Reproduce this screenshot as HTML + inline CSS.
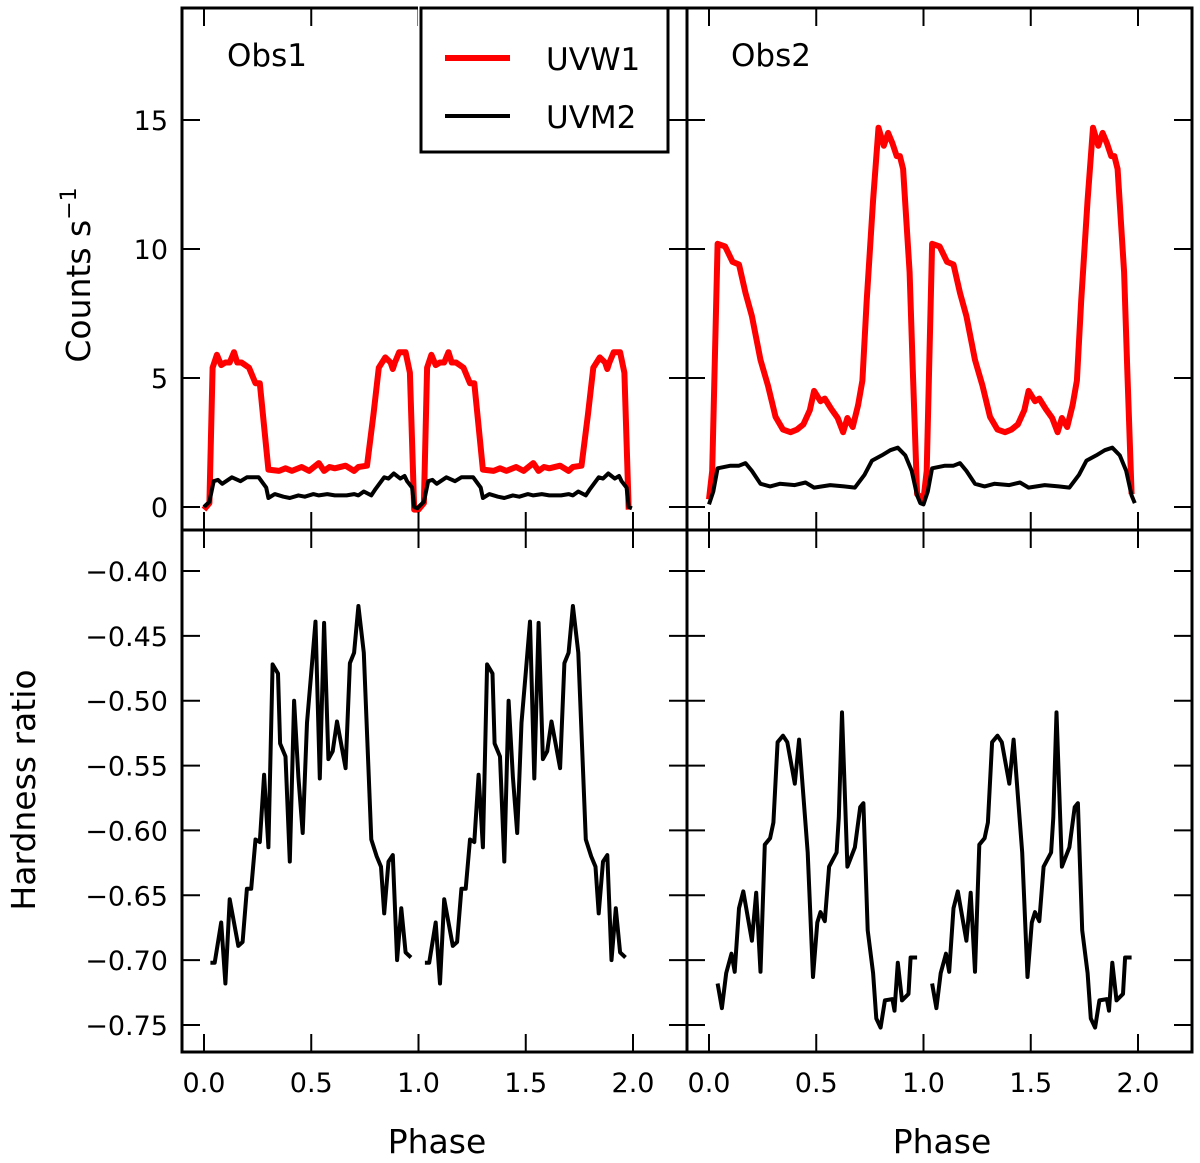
<!DOCTYPE html>
<html><head><meta charset="utf-8"><style>
html,body{margin:0;padding:0;background:#fff}
svg{display:block;font-family:"DejaVu Sans","Liberation Sans",sans-serif}
</style></head><body>
<svg id="chart" width="1200" height="1163" viewBox="0 0 1200 1163" xmlns="http://www.w3.org/2000/svg"></svg>
<script>
// ---- data (one phase cycle, plotted at phase and phase+1) ----
const obs1UvwPhase=[0,.025,.04,.06,.08,.10,.12,.14,.155,.175,.21,.23,.24,.26,.30,.35,.38,.41,.455,.49,.535,.56,.585,.61,.66,.70,.72,.76,.79,.815,.845,.87,.88,.89,.91,.94,.96,.98];
const obs1UvwCounts=[-0.1,0.15,5.4,5.9,5.5,5.6,5.6,6.0,5.6,5.6,5.4,5.0,4.8,4.8,1.45,1.4,1.5,1.4,1.55,1.4,1.7,1.4,1.55,1.5,1.6,1.4,1.55,1.6,3.6,5.4,5.8,5.6,5.35,5.6,6.0,6.0,5.2,-0.1];
const obs1UvmPhase=[0,.025,.045,.065,.085,.13,.17,.20,.255,.29,.30,.33,.37,.40,.44,.47,.51,.535,.575,.61,.665,.70,.72,.745,.78,.80,.84,.86,.885,.915,.935,.947,.97,.98,.995];
const obs1UvmCounts=[0,0.2,1.0,1.05,0.9,1.15,1.0,1.15,1.15,0.75,0.35,0.5,0.4,0.35,0.45,0.4,0.5,0.45,0.5,0.45,0.45,0.5,0.45,0.6,0.45,0.7,1.15,1.1,1.3,1.1,1.2,1.0,0.75,0.0,-0.05];
const obs2UvwPhase=[0,.015,.04,.075,.11,.14,.17,.20,.24,.275,.31,.345,.38,.41,.44,.47,.49,.52,.54,.57,.60,.625,.645,.67,.695,.715,.735,.765,.79,.815,.835,.855,.875,.89,.905,.935,.95,.97];
const obs2UvwCounts=[0.3,1.4,10.2,10.1,9.5,9.4,8.3,7.4,5.7,4.7,3.5,3.0,2.9,3.0,3.2,3.75,4.5,4.1,4.2,3.8,3.45,2.9,3.45,3.1,3.95,4.9,8.0,11.9,14.7,14.0,14.5,14.1,13.6,13.6,13.1,9.1,5.3,0.5];
const obs2UvmPhase=[0,.02,.04,.10,.14,.17,.20,.24,.285,.33,.40,.45,.49,.565,.63,.68,.725,.76,.805,.845,.88,.915,.945,.97,.985];
const obs2UvmCounts=[0.1,0.6,1.5,1.6,1.6,1.7,1.4,0.9,0.8,0.9,0.85,0.95,0.75,0.85,0.8,0.75,1.25,1.8,2.0,2.2,2.3,2.0,1.4,0.45,0.15];
const obs1HrPhase=[.03,.05,.08,.10,.12,.16,.18,.20,.22,.24,.26,.28,.30,.32,.345,.355,.38,.40,.42,.44,.46,.48,.50,.52,.54,.56,.58,.60,.62,.64,.66,.68,.70,.72,.745,.78,.805,.825,.84,.86,.88,.90,.92,.94,.965];
const obs1Hr=[-0.702,-0.702,-0.671,-0.718,-0.653,-0.689,-0.686,-0.645,-0.645,-0.607,-0.609,-0.557,-0.613,-0.472,-0.479,-0.533,-0.543,-0.624,-0.500,-0.559,-0.602,-0.517,-0.478,-0.439,-0.560,-0.440,-0.545,-0.539,-0.516,-0.534,-0.552,-0.471,-0.463,-0.427,-0.463,-0.607,-0.620,-0.628,-0.664,-0.624,-0.619,-0.700,-0.660,-0.694,-0.698];
const obs2HrPhase=[.04,.06,.08,.105,.12,.14,.16,.20,.22,.24,.26,.285,.30,.32,.345,.365,.40,.42,.46,.485,.505,.52,.54,.56,.595,.605,.62,.645,.68,.705,.72,.74,.765,.78,.80,.82,.855,.865,.88,.90,.93,.94,.97];
const obs2Hr=[-0.718,-0.737,-0.710,-0.695,-0.709,-0.660,-0.647,-0.685,-0.648,-0.709,-0.611,-0.606,-0.594,-0.532,-0.527,-0.532,-0.564,-0.530,-0.617,-0.713,-0.671,-0.663,-0.670,-0.628,-0.617,-0.590,-0.509,-0.628,-0.613,-0.582,-0.579,-0.677,-0.710,-0.745,-0.752,-0.731,-0.730,-0.739,-0.702,-0.731,-0.726,-0.698,-0.698];
const xTicks=[0,0.5,1,1.5,2];
const xTickLabels=["0.0","0.5","1.0","1.5","2.0"];
const countTicks=[0,5,10,15];
const hrTicks=[-0.40,-0.45,-0.50,-0.55,-0.60,-0.65,-0.70,-0.75];
const hrTickLabels=["\u22120.40","\u22120.45","\u22120.50","\u22120.55","\u22120.60","\u22120.65","\u22120.70","\u22120.75"];

const NS="http://www.w3.org/2000/svg";
const svg=document.getElementById('chart');
function mk(tag,attrs,parent){const e=document.createElementNS(NS,tag);for(const k in attrs)e.setAttribute(k,attrs[k]);(parent||svg).appendChild(e);return e;}

const cols=[{x0:182,x1:687,px0:204,px2:633},{x0:687,x1:1192,px0:709,px2:1138}];
const rows=[{y0:8,y1:530},{y0:530,y1:1052}];
function xs(c,p){const C=cols[c];return C.px0+(C.px2-C.px0)*p/2;}
function yCount(v){return 507-(507-120)*v/15;}
function yHr(v){return 571+(v+0.40)/(-0.35)*(1025-571);}

const defs=mk('defs',{});
for(let r=0;r<2;r++)for(let c=0;c<2;c++){
  const cp=mk('clipPath',{id:'cp'+r+c},defs);
  mk('rect',{x:cols[c].x0,y:rows[r].y0,width:cols[c].x1-cols[c].x0,height:rows[r].y1-rows[r].y0},cp);
}
const gTL=mk('g',{'clip-path':'url(#cp00)'});
const gTR=mk('g',{'clip-path':'url(#cp01)'});
const gBL=mk('g',{'clip-path':'url(#cp10)'});
const gBR=mk('g',{'clip-path':'url(#cp11)'});
function dl(g,c,yf,ph,vals,color,w,name,split){
  let segs=[[]];
  for(let k=0;k<2;k++){
    if(split&&k===1)segs.push([]);
    for(let i=0;i<ph.length;i++){segs[segs.length-1].push(xs(c,ph[i]+k).toFixed(1)+','+yf(vals[i]).toFixed(1));}
  }
  segs.forEach(pts=>{
    const e=mk('polyline',{points:pts.join(' '),fill:'none',stroke:color,'stroke-width':w,'stroke-linejoin':'round'},g);
    
    
  });
}
dl(gTL,0,yCount,obs1UvwPhase,obs1UvwCounts,'#ff0000',6,'obs1-uvw1-line',false);
dl(gTL,0,yCount,obs1UvmPhase,obs1UvmCounts,'#000',4,'obs1-uvm2-line',false);
dl(gTR,1,yCount,obs2UvwPhase,obs2UvwCounts,'#ff0000',6,'obs2-uvw1-line',false);
dl(gTR,1,yCount,obs2UvmPhase,obs2UvmCounts,'#000',4,'obs2-uvm2-line',false);
dl(gBL,0,yHr,obs1HrPhase,obs1Hr,'#000',4,'obs1-hardness-line',true);
dl(gBR,1,yHr,obs2HrPhase,obs2Hr,'#000',4,'obs2-hardness-line',true);

for(let r=0;r<2;r++)for(let c=0;c<2;c++){
  const C=cols[c],R=rows[r];
  xTicks.forEach(t=>{const x=xs(c,t);
    mk('line',{x1:x,y1:R.y1,x2:x,y2:R.y1-18,stroke:'#000','stroke-width':2});
    mk('line',{x1:x,y1:R.y0,x2:x,y2:R.y0+18,stroke:'#000','stroke-width':2});});
  const yt=r===0?countTicks:hrTicks, yf=r===0?yCount:yHr;
  yt.forEach(t=>{const y=yf(t);
    mk('line',{x1:C.x0,y1:y,x2:C.x0+18,y2:y,stroke:'#000','stroke-width':2});
    mk('line',{x1:C.x1,y1:y,x2:C.x1-18,y2:y,stroke:'#000','stroke-width':2});});
}
for(let r=0;r<2;r++)for(let c=0;c<2;c++){
  const f=mk('rect',{x:cols[c].x0,y:rows[r].y0,width:cols[c].x1-cols[c].x0,height:rows[r].y1-rows[r].y0,fill:'none',stroke:'#000','stroke-width':3});
  
  
}
countTicks.forEach(t=>{const e=mk('text',{x:168,y:yCount(t)+10,'text-anchor':'end','font-size':27});e.textContent=String(t);
  
  });
hrTicks.forEach((t,i)=>{const e=mk('text',{x:168,y:yHr(t)+10,'text-anchor':'end','font-size':27});e.textContent=hrTickLabels[i];
  
  });
for(let c=0;c<2;c++)xTicks.forEach((t,i)=>{const e=mk('text',{x:xs(c,t),y:1092,'text-anchor':'middle','font-size':27});e.textContent=xTickLabels[i];
  
  });
</script>
<svg style="position:absolute;left:0;top:0" width="1200" height="1163" font-family="DejaVu Sans, Liberation Sans, sans-serif">
<text x="227" y="66" font-size="31">Obs1</text>
<text x="731" y="66" font-size="31">Obs2</text>
<g>
<rect x="418" y="6" width="250" height="146" fill="#fff"/>
<rect x="421" y="8" width="247" height="144" fill="#fff" stroke="#000" stroke-width="3"/>
<line x1="445" y1="58" x2="510" y2="58" stroke="#ff0000" stroke-width="6"/>
<text x="546" y="70" font-size="31">UVW1</text>
<line x1="445" y1="116" x2="510" y2="116" stroke="#000" stroke-width="4"/>
<text x="546" y="128" font-size="31">UVM2</text>
</g>
<text transform="translate(90,275) rotate(-90)" text-anchor="middle" font-size="33">Counts s<tspan dy="-14" font-size="22">−1</tspan></text>
<text transform="translate(35,790) rotate(-90)" text-anchor="middle" font-size="33">Hardness ratio</text>
<text x="437" y="1153" text-anchor="middle" font-size="33">Phase</text>
<text x="942" y="1153" text-anchor="middle" font-size="33">Phase</text>
</svg>
</body></html>
